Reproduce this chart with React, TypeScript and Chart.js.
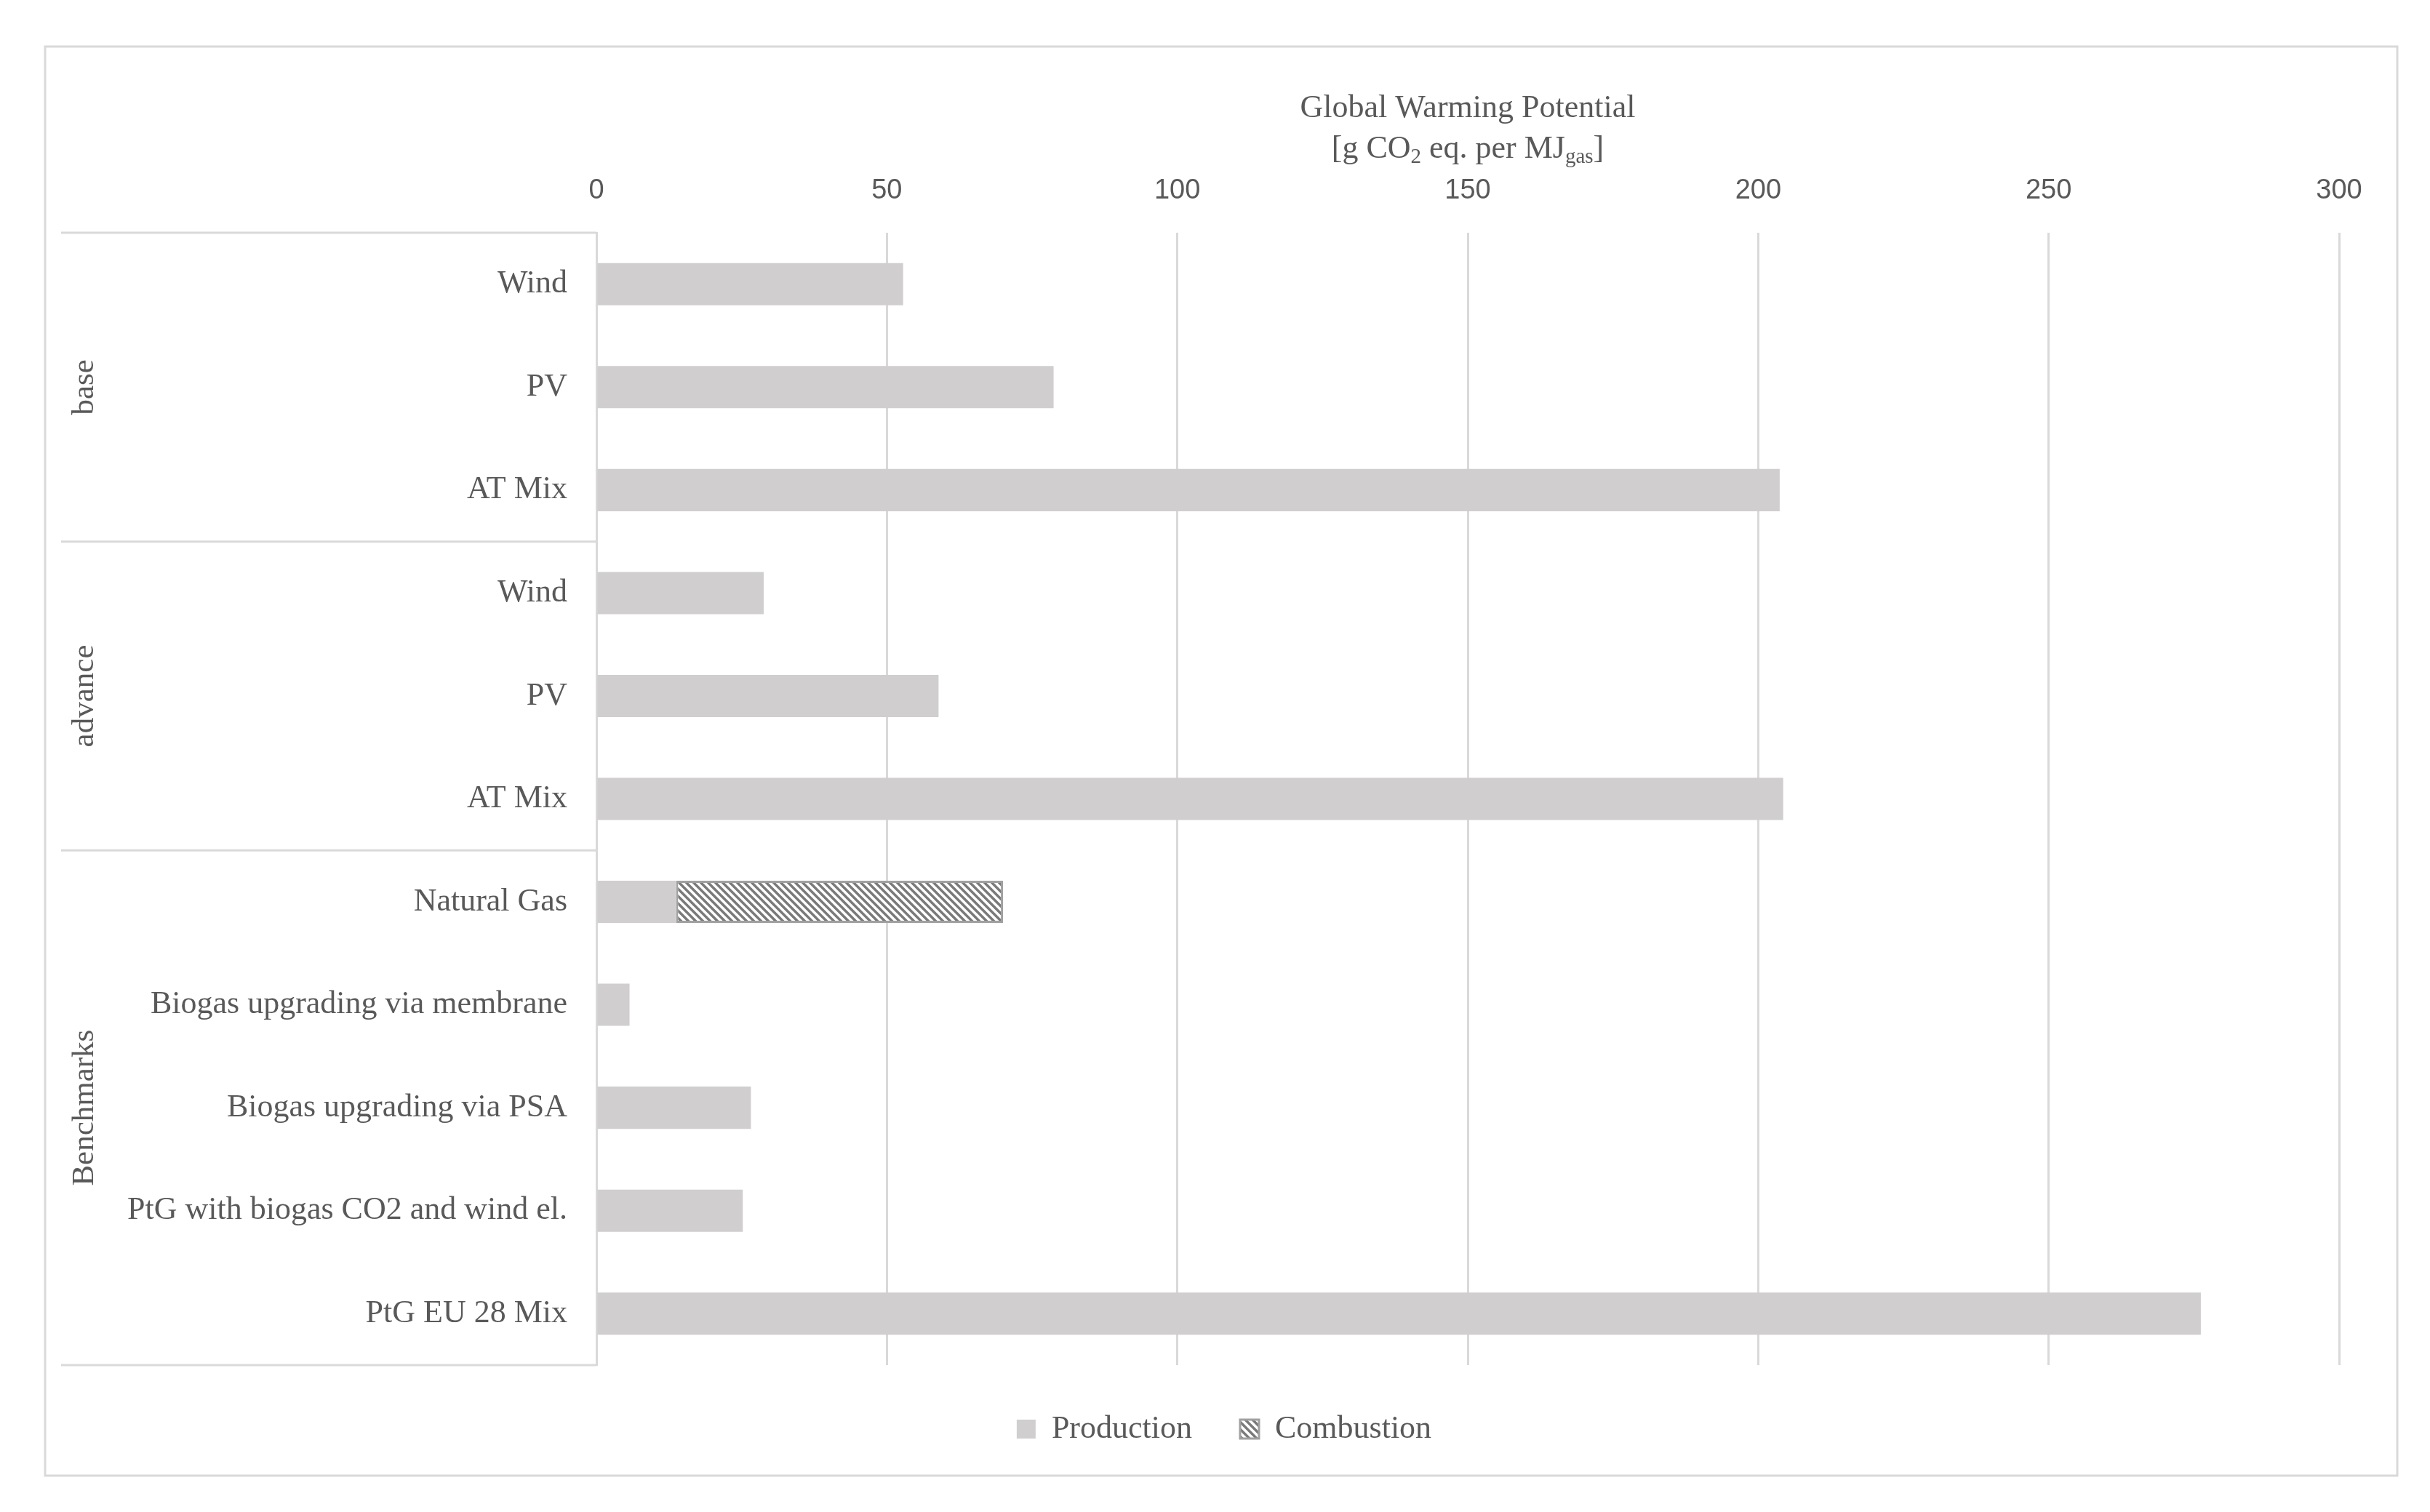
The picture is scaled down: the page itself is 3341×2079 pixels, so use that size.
import React, { useEffect, useRef } from "react";
import { Chart, registerables } from "chart.js";

Chart.register(...registerables);

// ---- data ----
const categories = [
  "Wind",
  "PV",
  "AT Mix",
  "Wind",
  "PV",
  "AT Mix",
  "Natural Gas",
  "Biogas upgrading via membrane",
  "Biogas upgrading via PSA",
  "PtG with biogas CO2 and wind el.",
  "PtG EU 28 Mix",
];
const groupNames = ["base", "advance", "Benchmarks"];
const groupSizes = [3, 3, 5];
const production = [52.8, 78.7, 203.7, 28.8, 58.9, 204.3, 13.7, 5.7, 26.6, 25.2, 276.2];
const combustion = [null, null, null, null, null, null, 56.3, null, null, null, null];
const xMin = 0;
const xMax = 300;
const xStep = 50;
const titleLine1 = "Global Warming Potential";
const titleLine2 = [
  { t: "[g CO", sub: false },
  { t: "2", sub: true },
  { t: " eq. per MJ", sub: false },
  { t: "gas", sub: true },
  { t: "]", sub: false },
];

// ---- styles ----
const SERIF = "'Liberation Serif', 'DejaVu Serif', serif";
const SANS = "'Liberation Sans', Arial, sans-serif";
const TEXT = "#595959";
const GRID = "#d9d9d9";
const BAR = "#d0cecf";

function makeHatch(): CanvasPattern | string {
  const s = 10;
  const c = document.createElement("canvas");
  c.width = s;
  c.height = s;
  const g = c.getContext("2d");
  if (!g) return "#aaaaaa";
  g.fillStyle = "#ffffff";
  g.fillRect(0, 0, s, s);
  g.strokeStyle = "#7a7a7a";
  g.lineWidth = 3.5;
  g.beginPath();
  g.moveTo(-3, -3);
  g.lineTo(s + 3, s + 3);
  g.moveTo(-3, s - 3);
  g.lineTo(3, s + 3);
  g.moveTo(s - 3, -3);
  g.lineTo(s + 3, 3);
  g.stroke();
  return g.createPattern(c, "repeat") || "#aaaaaa";
}

const framePlugin = {
  id: "frame",
  beforeDraw(chart: any) {
    const { ctx, width, height } = chart;
    ctx.save();
    ctx.fillStyle = "#ffffff";
    ctx.fillRect(0, 0, width, height);
    ctx.strokeStyle = GRID;
    ctx.lineWidth = 3;
    ctx.strokeRect(62, 64, 3296 - 62, 2029 - 64);
    ctx.restore();
  },
};

const groupPlugin = {
  id: "groups",
  afterDraw(chart: any) {
    const y = chart.scales.y;
    const ctx = chart.ctx;
    const area = chart.chartArea;
    const step = y.getPixelForValue(1) - y.getPixelForValue(0);
    const bounds: number[] = [y.getPixelForValue(0) - step / 2];
    ctx.save();
    ctx.fillStyle = TEXT;
    ctx.font = `43px ${SERIF}`;
    ctx.textAlign = "center";
    ctx.textBaseline = "middle";
    let idx = 0;
    groupNames.forEach((name, gi) => {
      const start = idx;
      const end = idx + groupSizes[gi] - 1;
      const mid = (y.getPixelForValue(start) + y.getPixelForValue(end)) / 2;
      ctx.save();
      ctx.translate(117, mid);
      ctx.rotate(-Math.PI / 2);
      ctx.fillText(name, 0, 0);
      ctx.restore();
      bounds.push(y.getPixelForValue(end) + step / 2);
      idx += groupSizes[gi];
    });
    ctx.strokeStyle = GRID;
    ctx.lineWidth = 3;
    bounds.forEach((b) => {
      ctx.beginPath();
      ctx.moveTo(84, b);
      ctx.lineTo(area.left, b);
      ctx.stroke();
    });
    ctx.restore();
  },
};

const titlePlugin = {
  id: "axisTitle",
  afterDraw(chart: any) {
    const ctx = chart.ctx;
    const area = chart.chartArea;
    const cx = (area.left + area.right) / 2;
    const y1 = area.top - 171;
    const y2 = area.top - 115;
    ctx.save();
    ctx.fillStyle = TEXT;
    ctx.textBaseline = "middle";
    ctx.textAlign = "center";
    ctx.font = `44px ${SERIF}`;
    ctx.fillText(titleLine1, cx, y1);
    ctx.textAlign = "left";
    const mainFont = `44px ${SERIF}`;
    const subFont = `29px ${SERIF}`;
    let total = 0;
    titleLine2.forEach((p) => {
      ctx.font = p.sub ? subFont : mainFont;
      total += ctx.measureText(p.t).width;
    });
    let x = cx - total / 2;
    titleLine2.forEach((p) => {
      ctx.font = p.sub ? subFont : mainFont;
      ctx.fillText(p.t, x, p.sub ? y2 + 11 : y2);
      x += ctx.measureText(p.t).width;
    });
    ctx.restore();
  },
};

export default function App() {
  const ref = useRef<HTMLCanvasElement | null>(null);

  useEffect(() => {
    document.body.style.margin = "0";
    const canvas = ref.current;
    if (!canvas) return;
    const hatch = makeHatch();
    const chart = new Chart(canvas, {
      type: "bar",
      data: {
        labels: categories,
        datasets: [
          {
            label: "Production",
            data: production,
            backgroundColor: BAR,
            borderWidth: 0,
            barPercentage: 0.41,
            categoryPercentage: 1,
          },
          {
            label: "Combustion",
            data: combustion as any,
            backgroundColor: hatch as any,
            borderColor: "#a0a0a0",
            borderWidth: 3,
            borderSkipped: false,
            barPercentage: 0.41,
            categoryPercentage: 1,
          },
        ],
      },
      options: {
        indexAxis: "y",
        responsive: false,
        animation: false,
        devicePixelRatio: 1,
        layout: { padding: { top: 0, left: 150, right: 125, bottom: 82 } },
        scales: {
          x: {
            position: "top",
            stacked: true,
            min: xMin,
            max: xMax,
            ticks: {
              stepSize: xStep,
              color: TEXT,
              font: { family: SANS, size: 38 },
              padding: 35,
            },
            grid: { color: GRID, lineWidth: 3, drawTicks: false },
            border: { display: false },
            afterFit(scale: any) {
              scale.height = 320;
            },
          },
          y: {
            stacked: true,
            ticks: {
              color: TEXT,
              font: { family: SERIF, size: 44 },
              padding: 40,
            },
            grid: { display: false, drawTicks: false },
            border: { display: true, color: GRID, width: 3 },
            afterFit(scale: any) {
              scale.width = 670;
            },
          },
        },
        plugins: {
          legend: {
            position: "bottom",
            labels: {
              color: TEXT,
              font: { family: SERIF, size: 44 },
              boxWidth: 26,
              boxHeight: 26,
              padding: 66,
            },
          },
          tooltip: { enabled: false },
          title: { display: false },
        },
      },
      plugins: [framePlugin, groupPlugin, titlePlugin],
    });
    return () => chart.destroy();
  }, []);

  return (
    <canvas
      ref={ref}
      width={3341}
      height={2079}
      style={{ display: "block", width: "3341px", height: "2079px" }}
    />
  );
}
